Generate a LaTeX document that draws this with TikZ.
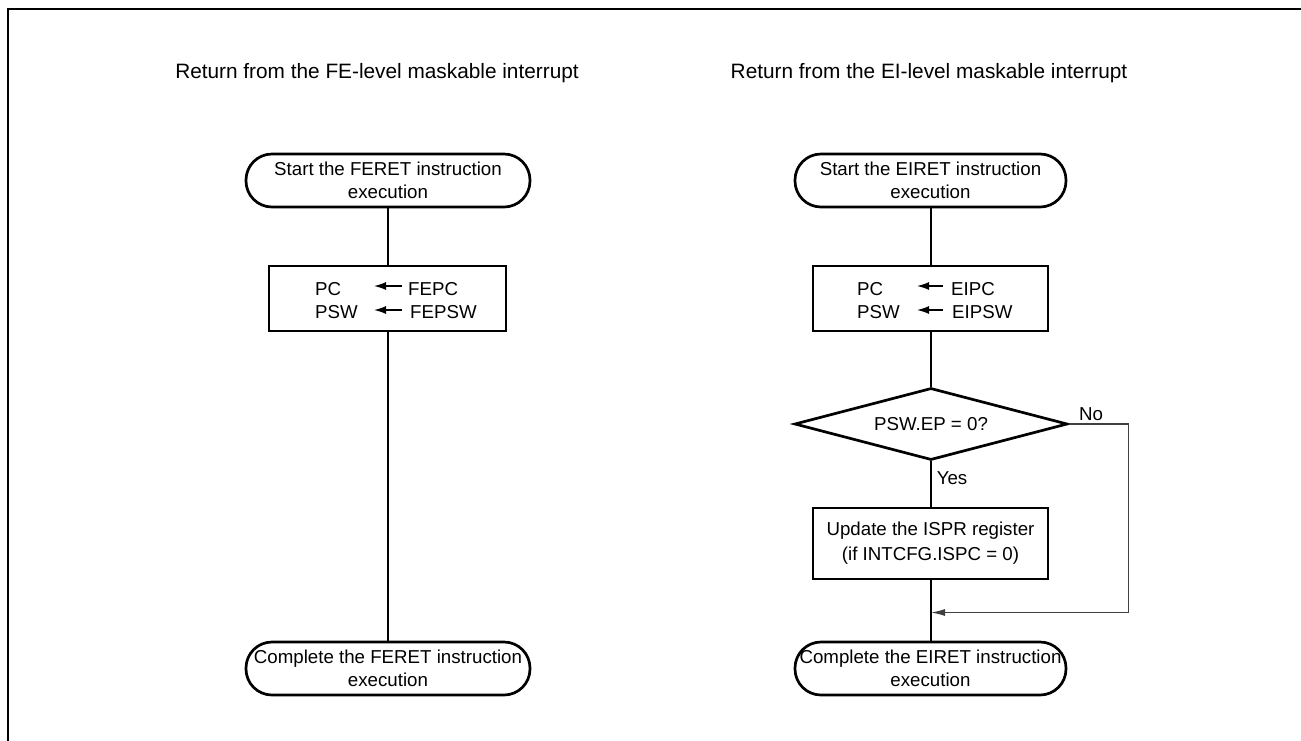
\documentclass[tikz,border=0pt]{standalone}
\usepackage{fontspec}
\setmainfont{Liberation Sans}
\usetikzlibrary{shapes.geometric,arrows.meta}
\begin{document}
\begin{tikzpicture}[x=1pt,y=-1pt,
  font=\fontsize{18.7}{23}\selectfont,
  title/.style={font=\fontsize{20.8}{24}\selectfont},
  term/.style={draw, line width=2.7pt, rounded corners=26pt, minimum height=53pt, align=center, inner sep=0pt},
  procbox/.style={draw, line width=2.9pt, inner sep=0pt, align=center},
  decision/.style={draw, line width=2.7pt, diamond, aspect=3.8, inner sep=0pt, minimum width=273pt, minimum height=72pt},
  flow/.style={line width=1.3pt},
  nopath/.style={line width=1.1pt, black!75},
  lbl/.style={inner sep=0pt, anchor=base west},
  regarrow/.style={line width=1.4pt, -{Latex[length=12pt,width=8pt]}}]
\useasboundingbox (0,0) rectangle (1301,740);
% frame
\draw[line width=2.7pt] (8,741) -- (8,9) -- (1302,9);
% titles
\node[title] (t1) at (377,73) {Return from the FE-level maskable interrupt};
\node[title] (t2) at (929,73) {Return from the EI-level maskable interrupt};
% ---------------- left chart
\node[term, minimum width=284pt] (s1) at (388,180.5) {Start the FERET instruction\\execution};
\node[procbox, minimum width=237pt, minimum height=65pt] (b1) at (387.5,298.5) {};
\node[lbl] (pc1) at (315,295) {PC};
\node[lbl] (psw1) at (315,318) {PSW};
\node[lbl] (fepc1) at (408,295) {FEPC};
\node[lbl] (fepsw1) at (410,318) {FEPSW};
\draw[regarrow] ([xshift=-6pt,yshift=9pt]fepc1.base west) -- ++(-28,0);
\draw[regarrow] ([xshift=-8pt,yshift=8pt]fepsw1.base west) -- ++(-28,0);
\node[term, minimum width=284pt] (c1) at (388,668.5) {Complete the FERET instruction\\execution};
\draw[flow] (s1) -- (s1 |- b1.north);
\draw[flow] (b1.south -| s1) -- (c1);
% ---------------- right chart
\node[term, minimum width=271pt] (s2) at (930.5,180.5) {Start the EIRET instruction\\execution};
\node[procbox, minimum width=235pt, minimum height=65pt] (b2) at (930.5,298.5) {};
\node[lbl] (pc2) at (857,295) {PC};
\node[lbl] (psw2) at (857,318) {PSW};
\node[lbl] (eipc2) at (951,295) {EIPC};
\node[lbl] (eipsw2) at (952,318) {EIPSW};
\draw[regarrow] ([xshift=-8pt,yshift=9pt]eipc2.base west) -- ++(-26,0);
\draw[regarrow] ([xshift=-9pt,yshift=8pt]eipsw2.base west) -- ++(-26,0);
\node[decision] (d) at (931,424) {PSW.EP = 0?};
\node[procbox, minimum width=235pt, minimum height=71pt, font=\fontsize{18.7}{25}\selectfont] (u) at (930.5,543.5) {Update the ISPR register\\(if INTCFG.ISPC = 0)};
\node[term, minimum width=271pt] (c2) at (930.5,668.5) {Complete the EIRET instruction\\execution};
\node (no) at (1091,414) {No};
\node (yes) at (952,478) {Yes};
\coordinate (m) at (931,612.5);
\draw[flow] (s2.south -| d.north) -- (b2.north -| d.north);
\draw[flow] (b2.south -| d.north) -- (d.north);
\draw[flow] (d.south) -- (u.north -| d.south);
\draw[flow] (u.south -| d.south) -- (c2.north -| d.south);
\draw[nopath, -{Latex[length=14pt,width=7pt]}] (d.east) -- ++(60,0) |- (m);
\end{tikzpicture}
\end{document}
